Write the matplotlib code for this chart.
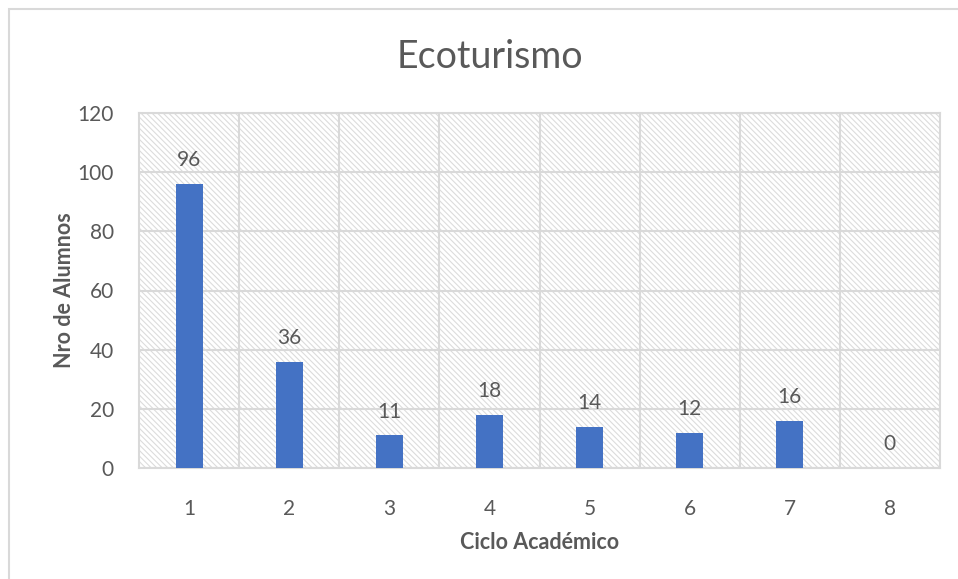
import matplotlib
matplotlib.use('Agg')
import matplotlib.pyplot as plt
from matplotlib.patches import Rectangle

# Data
CICLOS = ['1', '2', '3', '4', '5', '6', '7', '8']
ALUMNOS = [96, 36, 11, 18, 14, 12, 16, 0]
YTICKS = [0, 20, 40, 60, 80, 100, 120]

GRAY_TXT = '#595959'
GRID = '#d9d9d9'
BLUE = '#4472c4'

plt.rcParams['font.family'] = ['Lato', 'DejaVu Sans']
plt.rcParams['hatch.color'] = '#dcdcdc'
plt.rcParams['hatch.linewidth'] = 0.8

fig = plt.figure(figsize=(9.58, 5.79), dpi=100)
ax = fig.add_axes([139 / 958, 111 / 579, 801 / 958, 355 / 579])

# hatched plot area
ax.add_patch(Rectangle((0, 0), 1, 1, transform=ax.transAxes, facecolor='white',
                       edgecolor='#dcdcdc', linewidth=0, hatch='\\' * 6, zorder=0))

x = list(range(len(CICLOS)))
bars = ax.bar(x, ALUMNOS, width=0.27, color=BLUE, zorder=3)
for xi, v in zip(x, ALUMNOS):
    ax.annotate(str(v), (xi, v), xytext=(0, 10), textcoords='offset points',
                ha='center', va='bottom', fontsize=15, color=GRAY_TXT)

ax.set_xlim(-0.5, len(CICLOS) - 0.5)
ax.set_ylim(0, 120)
ax.set_yticks(YTICKS)
ax.set_xticks(x, CICLOS)
ax.set_xticks([i + 0.5 for i in x[:-1]], minor=True)
ax.grid(axis='y', which='major', color=GRID, linewidth=1.5, zorder=1)
ax.grid(axis='x', which='minor', color=GRID, linewidth=1.5, zorder=1)
ax.set_axisbelow(True)
for s in ax.spines.values():
    s.set_color(GRID)
    s.set_linewidth(1.5)
ax.tick_params(which='both', length=0, labelsize=15, labelcolor=GRAY_TXT)
ax.tick_params(axis='y', pad=18)
ax.tick_params(axis='x', pad=22)

ax.set_xlabel('Ciclo Académico', fontsize=15.5, fontweight='bold', color=GRAY_TXT, labelpad=10)
ax.set_ylabel('Nro de Alumnos', fontsize=15.5, fontweight='bold', color=GRAY_TXT, labelpad=2)

fig.text(490 / 958, 1 - 57 / 579, 'Ecoturismo', ha='center', va='center',
         fontsize=27, color=GRAY_TXT)

# chart border
fig.patches.append(Rectangle((8.5 / 958, -0.1), 1.2, 1 - 8.5 / 579 + 0.1,
                             transform=fig.transFigure, fill=False,
                             edgecolor=GRID, linewidth=1.5))

fig.savefig('out.png', dpi=100)
